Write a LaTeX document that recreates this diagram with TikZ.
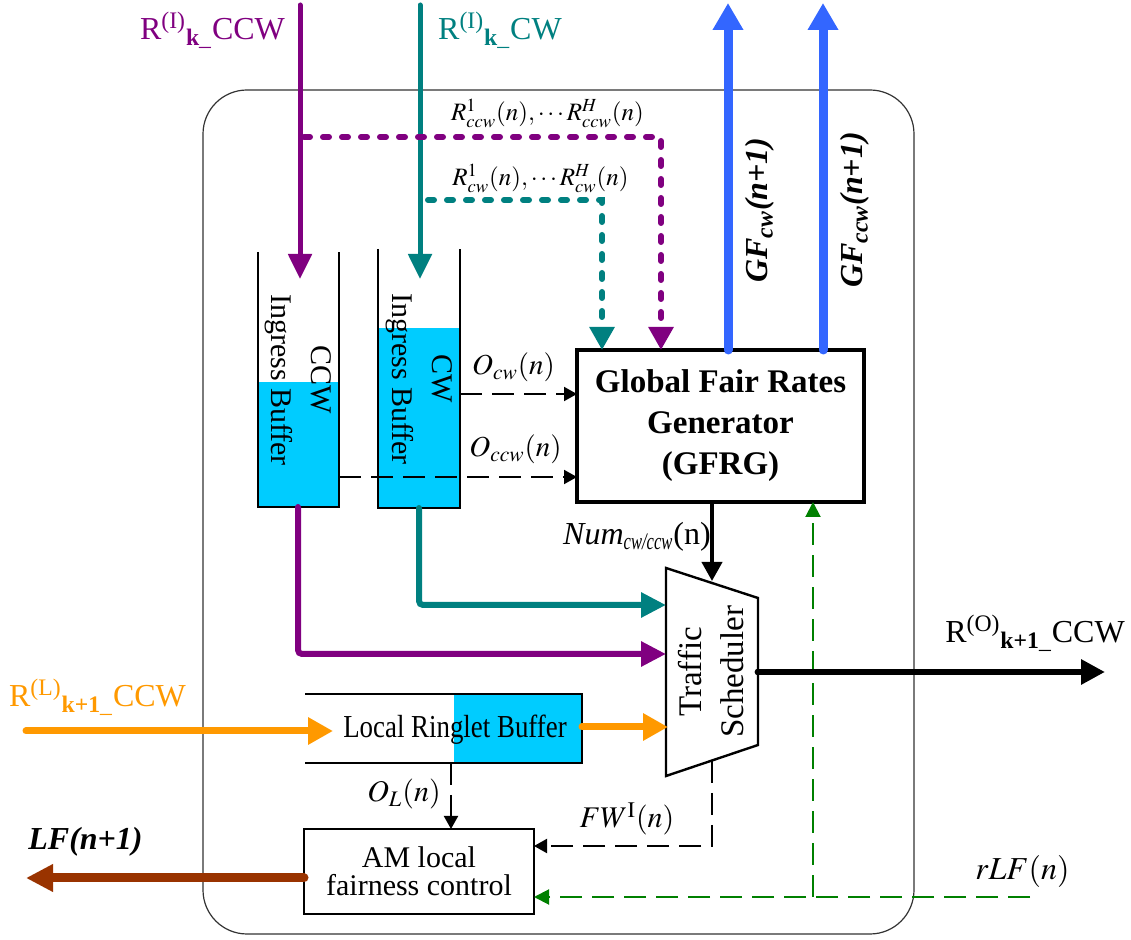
\documentclass[tikz,border=0pt]{standalone}
\usepackage{mathptmx}
\usepackage{fontspec}
\setmainfont{Liberation Serif}
\usepackage{graphicx}
\usetikzlibrary{arrows.meta,calc}
\definecolor{cpurple}{RGB}{128,0,128}
\definecolor{cteal}{RGB}{0,128,128}
\definecolor{corange}{RGB}{255,153,0}
\definecolor{cbrown}{RGB}{153,51,0}
\definecolor{cblue}{RGB}{51,102,255}
\definecolor{ccyan}{RGB}{0,204,255}
\definecolor{cgreen}{RGB}{0,128,0}
\begin{document}
\begin{tikzpicture}[x=0.5pt,y=-0.5pt,
  every node/.style={inner sep=0pt,outer sep=0pt},
  f16/.style={font=\fontsize{16}{19}\selectfont},
  f15/.style={font=\fontsize{15}{20}\selectfont},
  fmath/.style={font=\fontsize{14.5}{17}\selectfont},
  fsmall/.style={font=\fontsize{12.5}{15}\selectfont},
  feed/.style={line width=2.5pt,line cap=round,-{Triangle[length=12.5pt,width=11.5pt]}},
  dotarr/.style={line width=3pt,line cap=round,dash pattern=on 3pt off 6.5pt,-{Triangle[length=11.5pt,width=12pt]}},
  gfarr/.style={cblue,line width=4.5pt,line cap=round,-{Triangle[length=13.5pt,width=14.5pt]}},
  flow/.style={line width=3pt,line cap=round,rounded corners=2pt,-{Triangle[length=12.5pt,width=12pt]}},
  dasharr/.style={line width=1pt,dash pattern=on 11pt off 5pt,-{Triangle[length=6.5pt,width=7pt]}},
  greendash/.style={cgreen,line width=1pt,dash pattern=on 11pt off 5pt,-{Triangle[length=7.5pt,width=7.5pt]}},
  orangearr/.style={corange,line width=3.5pt,line cap=round,-{Triangle[length=12.5pt,width=13pt]}},
  brownarr/.style={cbrown,line width=4.5pt,line cap=round,-{Triangle[length=13.5pt,width=13pt]}},
  outarr/.style={line width=3pt,-{Triangle[length=12pt,width=12pt]}},
  bufline/.style={line width=0.8pt}]
\useasboundingbox (0,0) rectangle (1131,940);

% frame
\node[draw=black!80,line width=0.6pt,rounded corners=22pt,minimum width=355.5pt,minimum height=422pt] (frame) at (558.5,512) {};

% ingress buffers
\fill[ccyan] (258,382) rectangle (339,507);
\draw[bufline] (258,252) -- (258,507) -- (339,507) -- (339,252);
\node[f15,rotate=-90,align=center] (ccwbuf) at (298.5,380) {CCW\\Ingress Buffer};
\fill[ccyan] (378,328) rectangle (460,508);
\draw[bufline] (378,249) -- (378,508) -- (460,508) -- (460,249);
\node[f15,rotate=-90,align=center] (cwbuf) at (419,379) {CW\\Ingress Buffer};
\coordinate (ccwbot) at (298,507);
\coordinate (cwbot) at (419,508);
\coordinate (ccwout) at (339,477);
\coordinate (cwout) at (460,394);

% GFRG
\node[draw,line width=2pt,minimum width=143.5pt,minimum height=76pt,align=center,
      font=\fontsize{16.5}{20.5}\selectfont\bfseries] (gfrg) at (720.5,426) {Global Fair Rates\\Generator\\(GFRG)};

% traffic scheduler
\draw[line width=1.2pt,fill=white] (666,568) -- (758,598) -- (758,745) -- (666,776) -- cycle;
\node[font=\fontsize{16.5}{21}\selectfont,rotate=90,align=center] (sched) at (711,672) {Traffic\\Scheduler};

% local ringlet buffer
\fill[ccyan] (454,694) rectangle (582,763);
\draw[bufline] (305,694) -- (582,694) -- (582,763) -- (305,763);
\node[f16] (lrb) at (455,730) {\scalebox{0.84}[1]{Local Ringlet Buffer}};

% AM box
\node[draw,line width=1.2pt,minimum width=115pt,minimum height=42.5pt,align=center,
      font=\fontsize{15}{14}\selectfont] (am) at (419,871.5) {AM local\\fairness control};

% inputs from top
\coordinate (pT) at (300,5); \coordinate (pB) at (300,279);
\draw[feed,cpurple] (pT) -- (pB);
\coordinate (tT) at (420,5); \coordinate (tB) at (420,279);
\draw[feed,cteal] (tT) -- (tB);

% dotted rate reports
\coordinate (pd0) at (304,137);
\coordinate (pdx) at (661,137);
\draw[dotarr,cpurple] (pd0) -- (pdx) -- (pdx |- gfrg.north);
\coordinate (td0) at (428,200);
\coordinate (tdx) at (602,200);
\draw[dotarr,cteal] (td0) -- (tdx) -- (tdx |- gfrg.north);

% GF outputs
\coordinate (gf1) at (728,3);
\coordinate (gf2) at (823,3);
\draw[gfarr] (gfrg.north -| gf1) -- (gf1);
\draw[gfarr] (gfrg.north -| gf2) -- (gf2);

% occupancy
\draw[dasharr] (cwout) -- (cwout -| gfrg.west);
\draw[dasharr] (ccwout) -- (ccwout -| gfrg.west);

% Num
\coordinate (numtip) at (712,581);
\draw[line width=2pt,-{Triangle[length=9.5pt,width=10pt]}] (gfrg.south -| numtip) -- (numtip);

% green rLF
\coordinate (rlf) at (1030,897);
\coordinate (gj) at (813,897);
\draw[greendash] (rlf) -- (am.east |- rlf);
\draw[greendash] (gj) -- (gfrg.south -| gj);

% flows to scheduler
\coordinate (schT) at (666,605);
\coordinate (schP) at (666,654);
\draw[flow,cteal] (cwbot) |- (schT);
\draw[flow,cpurple] (ccwbot) |- (schP);
\coordinate (oin) at (26,731); \coordinate (oinT) at (333,731);
\draw[orangearr] (oin) -- (oinT);
\coordinate (lrbR) at (582,727); \coordinate (schO) at (668,727);
\draw[orangearr] (lrbR) -- (schO);

% scheduler output
\coordinate (schOut) at (758,672); \coordinate (outT) at (1105,672);
\draw[outarr] (schOut) -- (outT);
\fill (schOut) circle[radius=1.7pt];

% local fairness
\coordinate (lrbB) at (451,763);
\draw[dasharr] (lrbB) -- (lrbB |- am.north);
\coordinate (schB) at (712,761); \coordinate (fwy) at (712,846);
\draw[dasharr] (schB) -- (fwy) -- (am.east |- fwy);
\coordinate (lfT) at (26,878);
\draw[brownarr] (am.west |- lfT) -- (lfT);

% labels
\node[f16,cpurple,anchor=base] (lab1) at (212.5,40) {R\textsuperscript{(I)}\textsubscript{\textbf{k}\_}CCW};
\node[f16,cteal,anchor=base] (lab2) at (500,40) {R\textsuperscript{(I)}\textsubscript{\textbf{k}\_}CW};
\node[fsmall,anchor=base] (lrccw) at (547.5,121) {$R_{ccw}^{1}(n),\cdots R_{ccw}^{H}(n)$};
\node[fsmall,anchor=base] (lrcw) at (540.5,186) {$R_{cw}^{1}(n),\cdots R_{cw}^{H}(n)$};
\node[fmath,anchor=base] (locw) at (513.5,375) {$O_{cw}(n)$};
\node[fmath,anchor=base] (loccw) at (515.5,457) {$O_{ccw}(n)$};
\node[f16,rotate=90] (lgf1) at (760,210) {\bfseries\itshape GF\textsubscript{cw}(n+1)};
\node[f16,rotate=90] (lgf2) at (855,210) {\bfseries\itshape GF\textsubscript{ccw}(n+1)};
\node[f16,anchor=base] (lnum) at (637,545) {\textit{Num}\textsubscript{\scalebox{0.7}[1]{\textit{cw/ccw}}}(n)};
\node[f16,anchor=base] (lro) at (1035,643) {R\textsuperscript{(O)}\textsubscript{\textbf{k+1}\_}CCW};
\node[f16,corange,anchor=base] (lrl) at (97.5,707) {R\textsuperscript{(L)}\textsubscript{\textbf{k+1}\_}CCW};
\node[f16,anchor=base] (llf) at (85.5,850) {\bfseries\itshape LF(n+1)};
\node[f15,anchor=base] (lol) at (404,802) {$O_{L}(n)$};
\node[f15,anchor=base] (lfw) at (627,828) {$FW^{\mathrm{I}}(n)$};
\node[f16,anchor=base] (lrlf) at (1022.5,880) {$rLF(n)$};
\end{tikzpicture}
\end{document}
